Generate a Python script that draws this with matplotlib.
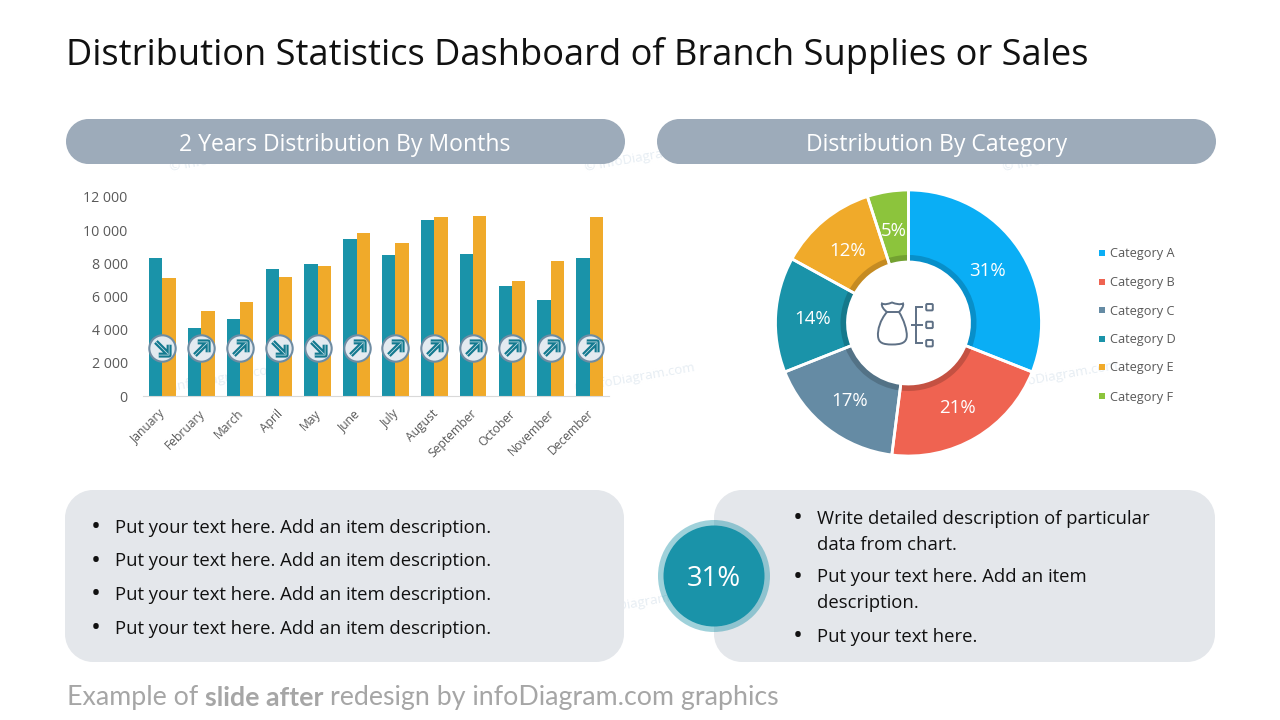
import matplotlib
matplotlib.use("Agg")
import matplotlib.pyplot as plt
from matplotlib.patches import Circle, PathPatch
from matplotlib.path import Path
from matplotlib.colors import to_rgb
from matplotlib.transforms import ScaledTranslation

W, H = 1280, 720
FONT = "Open Sans"
plt.rcParams["font.family"] = [FONT, "DejaVu Sans"]

# bar chart data
months = ["January", "February", "March", "April", "May", "June", "July",
          "August", "September", "October", "November", "December"]
year_one = [8335, 4107, 4651, 7671, 7973, 9483, 8517, 10631, 8577, 6644, 5799, 8335]
year_two = [7127, 5134, 5678, 7187, 7852, 9845, 9241, 10812, 10872, 6946, 8154, 10812]
y_ticks = [0, 2000, 4000, 6000, 8000, 10000, 12000]

# donut data
categories = ["Category A", "Category B", "Category C", "Category D", "Category E", "Category F"]
shares = [31, 21, 17, 14, 12, 5]
cat_colors = ["#0AAEF5", "#EF6351", "#658BA4", "#1A93A9", "#F0AA2A", "#8CC43C"]

left_items = ["Put your text here. Add an item description."] * 4
right_items = [["Write detailed description of particular", "data from chart."],
               ["Put your text here. Add an item", "description."],
               ["Put your text here."]]

TEAL = "#1A93A9"
ORANGE = "#F0AA2A"
PILL = "#9DABBA"
BOX = "#E4E7EB"
GREY_TEXT = "#595959"
ICON = "#5E7085"

M, L, C, Z = Path.MOVETO, Path.LINETO, Path.CURVE4, Path.CLOSEPOLY


def ax_rect(x0, y0, x1, y1):
    # pixel box (y from the top) to figure fractions
    return [x0 / W, 1 - y1 / H, (x1 - x0) / W, (y1 - y0) / H]


def rounded_path(x0, y0, x1, y1, r):
    k = r * 0.45
    verts = [(x0 + r, y0), (x1 - r, y0),
             (x1 - k, y0), (x1, y0 + k), (x1, y0 + r), (x1, y1 - r),
             (x1, y1 - k), (x1 - k, y1), (x1 - r, y1), (x0 + r, y1),
             (x0 + k, y1), (x0, y1 - k), (x0, y1 - r), (x0, y0 + r),
             (x0, y0 + k), (x0 + k, y0), (x0 + r, y0), (x0 + r, y0)]
    codes = [M, L, C, C, C, L, C, C, C, L, C, C, C, L, C, C, C, Z]
    return Path(verts, codes)


def rounded(ax, x0, y0, x1, y1, r, color):
    ax.add_patch(PathPatch(rounded_path(x0, y0, x1, y1, r), fc=color, ec="none", zorder=2))


fig = plt.figure(figsize=(W / 100, H / 100), dpi=100, facecolor="white")

# slide layer in pixel coordinates
bg = fig.add_axes([0, 0, 1, 1], zorder=0)
bg.set_xlim(0, W)
bg.set_ylim(H, 0)
bg.axis("off")

# faint stamps behind the content
stamps = [(645, 157), (1063, 157), (230, 157), (220, 379), (635, 378), (1058, 376), (640, 603)]
for sx, sy in stamps:
    bg.text(sx, sy, "© infoDiagram.com", color="#E6EDF3", fontsize=9.5, rotation=10,
            ha="center", va="center", zorder=1)

bg.text(66, 56, "Distribution Statistics Dashboard of Branch Supplies or Sales",
        fontsize=26.08, color="#111111", va="center", zorder=3)

# headers
rounded(bg, 66, 119, 625, 164, 22.5, PILL)
rounded(bg, 657, 119, 1216, 164, 22.5, PILL)
bg.text(345, 145, "2 Years Distribution By Months", color="white", fontsize=16.6,
        ha="center", va="center", zorder=3)
bg.text(936.5, 145, "Distribution By Category", color="white", fontsize=16.6,
        ha="center", va="center", zorder=3)

# text panels
rounded(bg, 65, 490, 624, 662, 28, BOX)
rounded(bg, 714, 490, 1215, 662, 28, BOX)

for item, ty in zip(left_items, [526.5, 560, 593, 627]):
    bg.text(96, ty + 1.5, "•", fontsize=19, color="#111111", ha="center", va="center", zorder=3)
    bg.text(115, ty + 1.5, item, fontsize=13.35, color="#111111", va="center", zorder=3)

right_y = [[517, 543.5], [576, 602], [635]]
for lines, ys in zip(right_items, right_y):
    bg.text(798, ys[0] + 1.5, "•", fontsize=19, color="#111111", ha="center", va="center", zorder=3)
    for line, ty in zip(lines, ys):
        bg.text(817, ty + 1.5, line, fontsize=13.35, color="#111111", va="center", zorder=3)

# highlighted percentage
bg.add_patch(Circle((714, 576), 56, fc=TEAL, ec="none", alpha=0.42, zorder=3))
bg.add_patch(Circle((714, 576), 50.5, fc=TEAL, ec="none", zorder=4))
bg.text(714, 579, f"{shares[0]}%", color="white", fontsize=19.8, ha="center", va="center", zorder=5)

# legend of the donut
legend_y = [252.7, 281.5, 310, 339, 367, 396]
for name, col, ly in zip(categories, cat_colors, legend_y):
    bg.add_patch(plt.Rectangle((1099, ly - 3), 6, 6, fc=col, ec="none", zorder=3))
    bg.text(1110, ly + 1, name, fontsize=9.2, color=GREY_TEXT, va="center", zorder=3)

# footer, pieces placed one after the other
footer = [("Example of ", "normal"), ("slide after ", "bold"),
          ("redesign by infoDiagram.com graphics", "normal")]
renderer = fig.canvas.get_renderer()
fx = 67
for piece, weight in footer:
    t = bg.text(fx, 698, piece.replace(" ", "\u00a0"), fontsize=19.3, color="#A6A6A6",
                family="Lato", fontweight=weight, va="center", zorder=3)
    fx = t.get_window_extent(renderer).x1

# columns
ax = fig.add_axes(ax_rect(143, 197, 609, 396), zorder=2)
ax.patch.set_visible(False)
bar_w = 0.345
xs = list(range(len(months)))
ax.bar([x - bar_w / 2 for x in xs], year_one, bar_w, color=TEAL)
ax.bar([x + bar_w / 2 for x in xs], year_two, bar_w, color=ORANGE)
ax.set_xlim(-0.5, 11.5)
ax.set_ylim(0, 12000)
ax.set_yticks(y_ticks)
ax.set_yticklabels([f"{v:,}".replace(",", " ") for v in y_ticks], fontsize=10.2, color=GREY_TEXT)
ax.set_xticks(xs)
ax.set_xticklabels(months, fontsize=8.7, color=GREY_TEXT, rotation=45, ha="right",
                   va="top", rotation_mode="anchor")
ax.tick_params(axis="y", length=0, pad=11)
ax.tick_params(axis="x", length=0, pad=8)
shift = ScaledTranslation(-3 / 100, 0, fig.dpi_scale_trans)
for label in ax.get_xticklabels():
    label.set_transform(label.get_transform() + shift)
for side in ["top", "left", "right"]:
    ax.spines[side].set_visible(False)
ax.spines["bottom"].set_color("#D9D9D9")

# trend badges, the arrow follows the change between the two years
arrow_up = Path([(-.7, -.7), (.6, .6), (-.4, .7), (.7, .7), (.7, -.4)], [M, L, M, L, L])
arrow_down = Path([(-.7, .7), (.6, -.6), (.7, .4), (.7, -.7), (-.4, -.7)], [M, L, M, L, L])
badge_y = 2900
for x, a, b in zip(xs, year_one, year_two):
    arrow = arrow_up if b > a else arrow_down
    ax.plot(x, badge_y, marker="o", ms=19, mfc="#E3EAF0", mec="#6E8CA3", mew=1.5,
            clip_on=False, zorder=5)
    ax.plot(x, badge_y, marker=arrow, ms=9.5, mfc="none", mec="#13798F", mew=3.6,
            clip_on=False, zorder=6)
    ax.plot(x, badge_y, marker=arrow, ms=9.5, mfc="none", mec="#D5E6EC", mew=0.5,
            clip_on=False, zorder=7)

# donut: flat wedges, darker inner ring, then the white outlines on top
dax = fig.add_axes(ax_rect(775.5, 190, 1041.5, 456), zorder=2)
dax.patch.set_visible(False)
R_IN, R_RING = 61 / 133, 68 / 133
dax.pie(shares, colors=cat_colors, startangle=90, counterclock=False, radius=1,
        wedgeprops=dict(width=1 - R_IN))
ring_colors = [tuple(c * 0.82 for c in to_rgb(col)) for col in cat_colors]
dax.pie(shares, colors=ring_colors, startangle=90, counterclock=False, radius=R_RING,
        wedgeprops=dict(width=R_RING - R_IN))
_, _, autotexts = dax.pie(shares, colors=["none"] * len(shares), startangle=90, counterclock=False,
                          radius=1, autopct=lambda p: f"{p:.0f}%", pctdistance=0.722,
                          wedgeprops=dict(width=1 - R_IN, edgecolor="white", linewidth=2))
for t in autotexts:
    t.set_color("white")
    t.set_fontsize(13.4)
    t.set_y(t.get_position()[1] - 0.018)
dax.set_xlim(-1, 1)
dax.set_ylim(-1, 1)
for p in dax.patches:
    p.set_clip_on(False)

# money bag with a small tree next to it
bag = Path([(887, 312), (880, 320), (877.5, 330), (878, 336), (878.5, 343), (883, 344.5), (892, 344.5),
            (901, 344.5), (906.5, 343), (906.8, 336), (907, 330), (904, 320), (899, 312), (887, 312)],
           [M, C, C, C, C, C, C, C, C, C, C, C, C, L])
tie = Path([(887, 312), (884, 310), (881, 306), (882, 303.5), (885, 305), (888, 304), (892, 302.5),
            (896, 304), (900, 305), (903, 303.5), (904, 306), (901, 310), (899, 312)],
           [M, C, C, C, C, C, C, C, C, C, C, C, C])
tree = Path([(910.7, 325), (923.3, 325), (923, 306.7), (915.7, 306.7), (915.7, 343.3), (923, 343.3)],
            [M, L, M, L, L, L])
top = fig.add_axes([0, 0, 1, 1], zorder=3)
top.set_xlim(0, W)
top.set_ylim(H, 0)
top.axis("off")
for shape in [bag, tie, tree]:
    top.add_patch(PathPatch(shape, fc="none", ec=ICON, lw=1.4))
for sq_y in [304, 321.7, 340]:
    top.add_patch(PathPatch(rounded_path(926.2, sq_y, 932.8, sq_y + 6.4, 1), fc="none", ec=ICON, lw=1.4))

fig.savefig("out.png", dpi=100)
